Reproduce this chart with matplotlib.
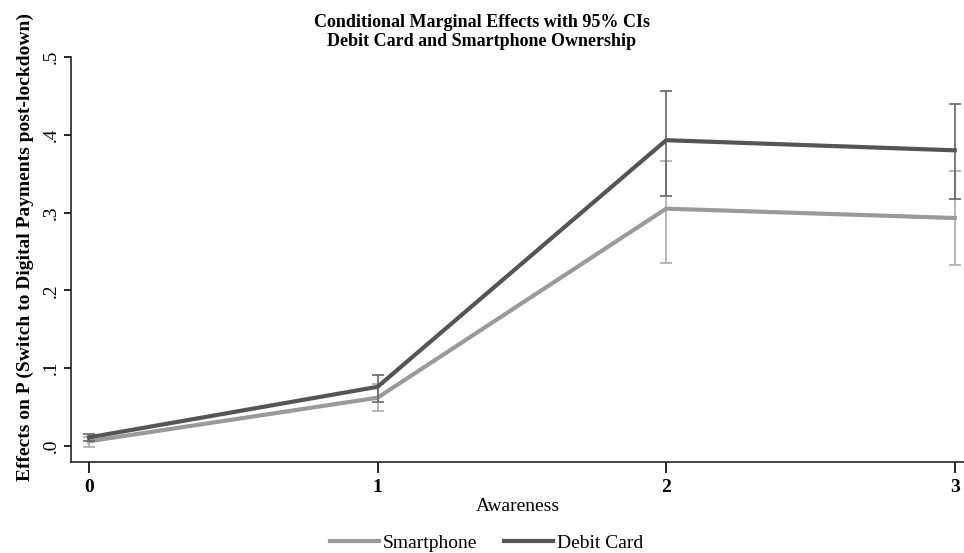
import matplotlib
matplotlib.use('Agg')
import matplotlib.pyplot as plt
from matplotlib.lines import Line2D

plt.rcParams['font.family'] = ['Liberation Serif', 'DejaVu Serif']

# Values.
awareness = [0, 1, 2, 3]
x_labels = ['0', '1', '2', '3']

smart_eff = [0.006, 0.062, 0.305, 0.293]
smart_lo = [-0.001, 0.045, 0.235, 0.232]
smart_hi = [0.012, 0.079, 0.366, 0.353]

debit_eff = [0.011, 0.076, 0.393, 0.380]
debit_lo = [0.006, 0.057, 0.321, 0.318]
debit_hi = [0.016, 0.091, 0.456, 0.439]

y_ticks = [0, 0.1, 0.2, 0.3, 0.4, 0.5]
y_labels = ['.0', '.1', '.2', '.3', '.4', '.5']

light = '#9a9a9a'
dark = '#555555'

fig = plt.figure(figsize=(9.64, 5.53), dpi=100)
ax = fig.add_axes([0.0737, 0.1646, 0.926, 0.7324])

# Smartphone series with its confidence interval.
ax.errorbar(awareness, smart_eff,
            yerr=[[e - l for e, l in zip(smart_eff, smart_lo)],
                  [h - e for e, h in zip(smart_eff, smart_hi)]],
            fmt='none', ecolor='#aaaaaa', elinewidth=1.2, capsize=4, capthick=1.2, zorder=2)
ax.plot(awareness, smart_eff, color=light, lw=3, zorder=3)

# Debit card series with its confidence interval.
ax.errorbar(awareness, debit_eff,
            yerr=[[e - l for e, l in zip(debit_eff, debit_lo)],
                  [h - e for e, h in zip(debit_eff, debit_hi)]],
            fmt='none', ecolor='#666666', elinewidth=1.2, capsize=4, capthick=1.2, zorder=4)
ax.plot(awareness, debit_eff, color=dark, lw=3, zorder=5)

ax.set_xlim(-0.062, 3.031)
ax.set_ylim(-0.0206, 0.5)
ax.set_xticks(awareness)
ax.set_xticklabels(x_labels, fontsize=14, fontweight='bold')
ax.set_yticks(y_ticks)
ax.set_yticklabels(y_labels, fontsize=14, rotation=90, va='center')
ax.tick_params(axis='x', length=8, width=1.2, pad=4)
ax.tick_params(axis='y', length=5, width=1.2, pad=3)

for side in ['top', 'right']:
    ax.spines[side].set_visible(False)
for side in ['left', 'bottom']:
    ax.spines[side].set_linewidth(1.2)
    ax.spines[side].set_color('#222222')

ax.set_xlabel('Awareness', fontsize=14, labelpad=2)
ax.set_ylabel('Effects on P (Switch to Digital Payments post-lockdown)', fontsize=14,
              fontweight='bold')
ax.yaxis.set_label_coords(-0.042, 0.53)

fig.text(0.5, 0.975, 'Conditional Marginal Effects with 95% CIs\nDebit Card and Smartphone Ownership',
         ha='center', va='top', fontsize=13, fontweight='bold', linespacing=1.2)

handles = [Line2D([], [], color=light, lw=3), Line2D([], [], color=dark, lw=3)]
fig.legend(handles, ['Smartphone', 'Debit Card'], loc='lower center',
           bbox_to_anchor=(0.505, -0.03), ncol=2, frameon=False, fontsize=14,
           handlelength=2.5, handletextpad=0.2, columnspacing=1.4)

fig.savefig('out.png', dpi=100)
